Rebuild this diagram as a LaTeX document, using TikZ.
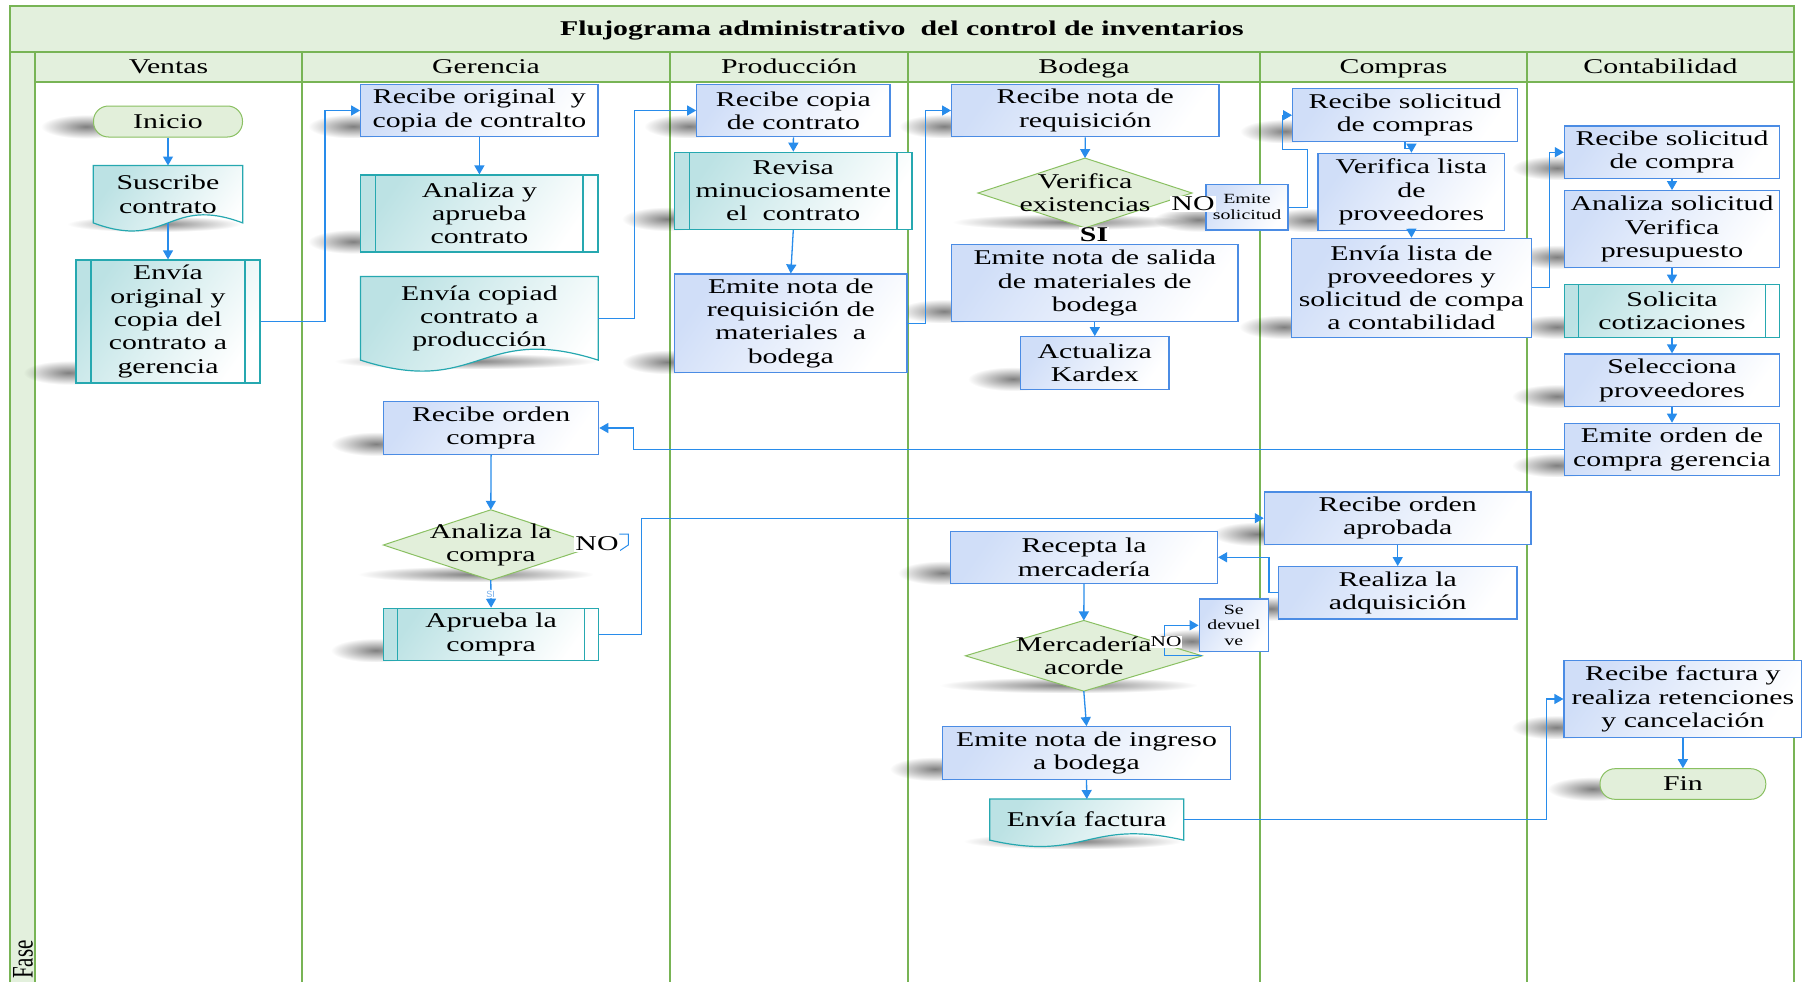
\documentclass[tikz,border=0pt]{standalone}
\usepackage{graphicx}
\usepackage{fontspec}
\setmainfont{Liberation Serif}[FakeStretch=1.42]
\newfontfamily\plainserif{Liberation Serif}
\newfontfamily\smallsans{Liberation Sans}
\usetikzlibrary{arrows.meta,calc,fadings}
\definecolor{lanegreen}{RGB}{120,180,85}
\definecolor{headfill}{RGB}{227,240,221}
\definecolor{boxborder}{RGB}{75,140,228}
\definecolor{boxfill}{RGB}{208,222,248}
\definecolor{tealborder}{RGB}{38,168,176}
\definecolor{tealfill}{RGB}{188,226,228}
\definecolor{diafill}{RGB}{226,239,218}
\definecolor{diaborder}{RGB}{138,192,98}
\definecolor{connblue}{RGB}{40,140,235}
\definecolor{silabel}{RGB}{120,175,235}
\tikzfading[name=blob, inner color=transparent!0, outer color=transparent!100]
\pgfdeclarelayer{lanes}
\pgfdeclarelayer{shadows}
\pgfdeclarelayer{shapes}
\pgfsetlayers{lanes,shadows,shapes,main}
\tikzset{
  txt/.style={font=\fontsize{21}{23.3}\selectfont, align=center, inner sep=0pt, text=black},
  sz/.style 2 args={minimum width=#1pt, minimum height=#2pt},
  proc/.style={txt, draw=boxborder, line width=1.2pt, top color=boxfill, bottom color=white, shading angle=55},
  pred/.style={txt, draw=tealborder, line width=1.2pt, top color=tealfill, bottom color=white, shading angle=55,
    path picture={\draw[tealborder, line width=1.2pt]
      ([xshift=#1pt]path picture bounding box.north west) -- ([xshift=#1pt]path picture bounding box.south west)
      ([xshift=-#1pt]path picture bounding box.north east) -- ([xshift=-#1pt]path picture bounding box.south east);}},
  pred/.default=15,
  term/.style={txt, draw=diaborder, line width=1pt, fill=diafill, rounded corners=15pt},
  plain/.style={txt},
  lane/.style={draw=lanegreen, line width=1.4pt},
  head/.style={font=\fontsize{21}{24}\selectfont, inner sep=0pt, anchor=base},
  conn/.style={draw=connblue, line width=1.3pt, -{Triangle[length=9pt, width=10pt]}},
  stub/.style={draw=connblue, line width=1pt},
  lbl/.style={font=\fontsize{21}{24}\selectfont, fill=white, inner sep=1pt},
  smalltxt/.style={txt, font=\fontsize{14}{15.7}\selectfont},
  shadowfill/.style={fill=black, opacity=.5, path fading=blob},
}
\newcommand\bshadow[1]{\path[shadowfill] ($(#1.south west)+(-52,-23)$) rectangle ($(#1.south west)+(38,1)$);}
\newcommand\dshadow[1]{\path[shadowfill] ($(#1.south west)+(-25,-14)$) rectangle ($(#1.south east)+(-5,2)$);}
\newcommand\cshadow[1]{\path[shadowfill] ($(#1.south west)+(-26,-7)$) rectangle ($(#1.south east)+(-2,9)$);}
\newcommand\dshape[1]{\path[draw=diaborder, line width=1pt, fill=diafill] (#1.north) -- (#1.east) -- (#1.south) -- (#1.west) -- cycle;}
\newcommand\docshape[2]{\path[draw=tealborder, line width=1.2pt, top color=tealfill, bottom color=white, shading angle=55]
  (#1.north west) -- (#1.north east) -- (#1.south east)
  .. controls ($(#1.south)+(0,-#2)$) and ($(#1.south)+(0,#2)$) .. (#1.south west) -- cycle;}
\begin{document}
\begin{tikzpicture}[x=1pt,y=-1pt]
\useasboundingbox (0,0) rectangle (1811,982);
% ---------------- nodes ----------------
\node[head, font=\bfseries\fontsize{21}{24}\selectfont] (title) at (902,35.5) {Flujograma administrativo~ del control de inventarios};
\node[head] (hventas) at (168.5,73.5) {Ventas};
\node[head] (hgerencia) at (486,73.5) {Gerencia};
\node[head] (hproduccion) at (789,73.5) {Producción};
\node[head] (hbodega) at (1084,73.5) {Bodega};
\node[head] (hcompras) at (1393.5,73.5) {Compras};
\node[head] (hconta) at (1660.5,73.5) {Contabilidad};
\node[rotate=90, anchor=west, inner sep=0pt, font=\plainserif\fontsize{21}{24}\selectfont] (fase) at (23,979) {\scalebox{1}[1.42]{Fase}};

\node[term, sz={149}{31}] (inicio) at (168,121.5) {Inicio};
\node[plain, sz={149}{57}] (suscribe) at (168,194.2) {Suscribe\\contrato};
\node[pred, sz={184}{123}] (envia1) at (168,321.5) {Envía\\original y\\copia del\\contrato a\\gerencia};

\node[proc, sz={237.3}{52.4}] (recibe1) at (479.4,110.5) {Recibe original~ y\\copia de contralto};
\node[pred, sz={237.3}{77}] (analiza1) at (479.4,213.5) {Analiza y\\aprueba\\contrato};
\node[plain, sz={237.3}{83.3}] (enviacop) at (479.4,318.3) {Envía copiad\\contrato a\\producción};
\node[proc, sz={215.2}{52.6}] (recorden) at (491.1,428) {Recibe orden\\compra};
\node[plain, sz={214.5}{70}] (analcompra) at (490.8,545) {Analiza la\\compra};
\node[pred=14.3, sz={215.2}{52.4}] (aprueba) at (491.1,634.5) {Aprueba la\\compra};

\node[proc, sz={193.3}{52.4}] (recibe2) at (793.4,110.5) {Recibe copia\\de contrato};
\node[pred, sz={237.5}{77}] (revisa) at (793.3,190.8) {Revisa\\minuciosamente\\el~ contrato};
\node[proc, sz={232.5}{98.3}] (emitereq) at (790.8,323.2) {Emite nota de\\requisición de\\materiales~ a\\bodega};

\node[proc, sz={267.4}{52.4}] (recibenota) at (1085.3,110.5) {Recibe nota de\\requisición};
\node[plain, sz={213.5}{69.4}] (verifica) at (1085,193) {Verifica\\existencias};
\node[proc, smalltxt, sz={82}{45.7}] (emitesol) at (1247,207.2) {Emite\\solicitud};
\node[proc, sz={286.4}{77.4}] (emitesal) at (1094.8,283) {Emite nota de salida\\de materiales de\\bodega};
\node[proc, sz={148.5}{52.6}] (kardex) at (1094.8,363) {Actualiza\\Kardex};
\node[proc, sz={267}{52}] (recepta) at (1084,557.3) {Recepta la\\mercadería};
\node[plain, sz={236.3}{70.3}] (mercdia) at (1083.8,655.8) {Mercadería\\acorde};
\node[proc, smalltxt, sz={69.2}{52.7}] (sedev) at (1233.8,625.3) {Se\\devuel\\ve};
\node[proc, sz={288.2}{52.6}] (emiteing) at (1086.5,753) {Emite nota de ingreso\\a bodega};
\node[plain, sz={193.6}{40.7}] (enviafact) at (1086.8,819.6) {Envía factura};

\node[proc, sz={225}{53}] (recibesol) at (1405.1,115.2) {Recibe solicitud\\de compras};
\node[proc, sz={186.8}{77.4}] (verlista) at (1411.4,192) {Verifica lista\\de\\proveedores};
\node[proc, sz={239.7}{99}] (envialista) at (1411.5,287.8) {Envía lista de\\proveedores y\\solicitud de compa\\a contabilidad};
\node[proc, sz={266.7}{52.3}] (recaprob) at (1397.7,518.2) {Recibe orden\\aprobada};
\node[proc, sz={238.7}{52.3}] (realiza) at (1397.7,592.8) {Realiza la\\adquisición};

\node[proc, sz={215.1}{52.3}] (recsolc) at (1672,152.2) {Recibe solicitud\\de compra};
\node[proc, sz={215.1}{76.6}] (analsol) at (1672,229) {Analiza solicitud\\Verifica\\presupuesto};
\node[pred=14, sz={215.1}{53}] (solcot) at (1672,310.8) {Solicita\\cotizaciones};
\node[proc, sz={215.1}{52.7}] (selprov) at (1672,380.3) {Selecciona\\proveedores};
\node[proc, sz={215.1}{52.4}] (emiteorden) at (1672,449.5) {Emite orden de\\compra gerencia};
\node[proc, sz={237.8}{77.4}] (recfact) at (1682.9,699) {Recibe factura y\\realiza retenciones\\y cancelación};
\node[term, sz={165.8}{30.6}] (fin) at (1682.9,784) {Fin};

% ---------------- connectors ----------------
\draw[conn] (inicio.south) -- (suscribe.north);
\draw[conn] (suscribe.south) -- (envia1.north);
\draw[conn] (envia1.east) -- ++(64.5,0) |- (recibe1.west);
\draw[conn] (recibe1.south) -- (analiza1.north);
\draw[conn] (enviacop.east) -- ++(36,0) |- (recibe2.west);
\draw[conn] (recibe2.south) -- (revisa.north);
\draw[conn] (revisa.south) -- (emitereq.north);
\draw[conn] (emitereq.east) -- ++(17.8,0) |- (recibenota.west);
\draw[conn] (recibenota.south) -- (verifica.north);
\draw[conn] (emitesal.south) -- (kardex.north);
\draw[conn] (emitesol.east) -- ++(18.6,0) -- ++(0,-57.7) -- ++(-24.9,0) |- (recibesol.west);
\draw[conn] (recibesol.south) -- ++(0,6) -| (verlista.north);
\draw[conn] (verlista.south) -- (envialista.north);
\draw[conn] (envialista.east) -- ++(17.5,0) |- (recsolc.west);
\draw[conn] (recsolc.south) -- (analsol.north);
\draw[conn] (analsol.south) -- (solcot.north);
\draw[conn] (solcot.south) -- (selprov.north);
\draw[conn] (selprov.south) -- (emiteorden.north);
\draw[conn] (emiteorden.west) -- ++(-930.4,0) |- (recorden.east);
\draw[conn] (recorden.south) -- (analcompra.north);
\draw[conn] (analcompra.south) -- (aprueba.north);
\draw[conn] (aprueba.east) -- ++(42.3,0) |- (recaprob.west);
\draw[conn] (recaprob.south) -- (realiza.north);
\draw[conn] (realiza.west) -- ++(-8.8,0) |- (recepta.east);
\draw[conn] (recepta.south) -- (mercdia.north);
\draw[conn] (mercdia.east) -- ++(-38,0) |- (sedev.west);
\draw[conn] (mercdia.south) -- (emiteing.north);
\draw[conn] (emiteing.south) -- (enviafact.north);
\draw[conn] (enviafact.east) -- ++(363,0) |- (recfact.west);
\draw[conn] (recfact.south) -- (fin.north);
\coordinate (nostub) at (619.3,534);
\draw[stub] (nostub) -- ++(9,0) -- ++(0,11) -- ++(-9,6);

% ---------------- labels ----------------
\node[lbl] (no1) at (1193,204) {NO};
\node[lbl, font=\bfseries\fontsize{21}{24}\selectfont] (si1) at (1094,235) {SI};
\node[lbl] (no2) at (597,544) {NO};
\node[lbl, font=\smallsans\fontsize{9}{10}\selectfont, text=silabel, inner sep=0.5pt] (si2) at (490.6,594) {SI};
\node[lbl, font=\fontsize{15}{17}\selectfont, inner sep=0.5pt] (no3) at (1166,642) {NO};

% ---------------- lanes ----------------
\begin{pgfonlayer}{lanes}
  \fill[white] (0,0) rectangle (1811,982);
  \fill[headfill] (10,6) rectangle (1794,52);
  \fill[headfill] (10,52) rectangle (35,982);
  \fill[headfill] (35,52) rectangle (1794,82);
  \draw[lane] (10,982) -- (10,6) -- (1794,6) -- (1794,982);
  \draw[lane] (10,52) -- (1794,52);
  \draw[lane] (35,82) -- (1794,82);
  \foreach \xx in {35,302,670,908,1260,1527} {\draw[lane] (\xx,52) -- (\xx,982);}
\end{pgfonlayer}

% ---------------- shadows ----------------
\begin{pgfonlayer}{shadows}
  \foreach \nn in {inicio,envia1,recibe1,analiza1,recorden,aprueba,recibe2,revisa,emitereq,recibenota,emitesol,emitesal,kardex,recepta,sedev,emiteing,recibesol,verlista,envialista,recaprob,realiza,recsolc,analsol,solcot,selprov,emiteorden,recfact,fin} {\bshadow{\nn}}
  \foreach \nn in {verifica,analcompra,mercdia} {\dshadow{\nn}}
  \foreach \nn in {suscribe,enviacop,enviafact} {\cshadow{\nn}}
\end{pgfonlayer}

% ---------------- shapes ----------------
\begin{pgfonlayer}{shapes}
  \dshape{verifica}
  \dshape{analcompra}
  \dshape{mercdia}
  \docshape{suscribe}{28}
  \docshape{enviacop}{38}
  \docshape{enviafact}{22}
\end{pgfonlayer}
\end{tikzpicture}
\end{document}
